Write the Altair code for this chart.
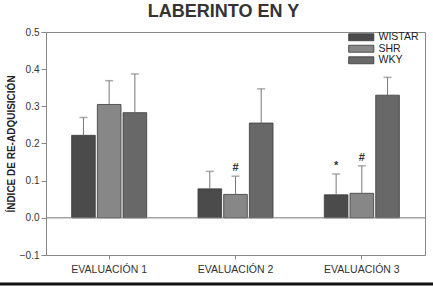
import altair as alt
import pandas as pd

evaluations = ["EVALUACIÓN 1", "EVALUACIÓN 2", "EVALUACIÓN 3"]
strains = ["WISTAR", "SHR", "WKY"]
colors = ["#4b4b4b", "#878787", "#686868"]

# values per evaluation for each strain
wistar_mean = [0.222, 0.078, 0.062]
wistar_err = [0.048, 0.047, 0.056]
shr_mean = [0.305, 0.063, 0.066]
shr_err = [0.064, 0.049, 0.074]
wky_mean = [0.283, 0.255, 0.330]
wky_err = [0.104, 0.092, 0.048]

y_ticks = [-0.1, 0.0, 0.1, 0.2, 0.3, 0.4, 0.5]

marks_eval = ["EVALUACIÓN 2", "EVALUACIÓN 3", "EVALUACIÓN 3"]
marks_strain = ["SHR", "WISTAR", "SHR"]
marks_text = ["#", "*", "#"]

rows = []
for s, m, e in zip(strains, [wistar_mean, shr_mean, wky_mean], [wistar_err, shr_err, wky_err]):
    for ev, mv, ev_err in zip(evaluations, m, e):
        rows.append({"eval": ev, "strain": s, "mean": mv, "top": mv + ev_err})
df = pd.DataFrame(rows)

mk = pd.DataFrame({"eval": marks_eval, "strain": marks_strain, "txt": marks_text})
mk = mk.merge(df[["eval", "strain", "top"]], on=["eval", "strain"])

W, H = 379, 223

xaxis = alt.Axis(title=None, labelAngle=0, labelFontSize=10.5, labelColor="#333",
                 domainColor="#888", tickColor="#888", tickSize=4, labelPadding=5,
                 grid=False)
xscale = alt.Scale(paddingInner=0.406, paddingOuter=0.203)
yaxis = alt.Axis(title="ÍNDICE DE RE-ADQUISICIÓN", titleFontSize=10, titleFontWeight="bold",
                 titleColor="#222", titlePadding=3,
                 values=y_ticks, format=".1f", labelOverlap=False,
                 labelFontSize=10, labelColor="#333", domainColor="#888",
                 tickColor="#888", tickSize=5, grid=False)
yscale = alt.Scale(domain=[-0.1, 0.5], nice=False)

xenc = alt.X("eval:N", sort=evaluations, scale=xscale, axis=xaxis)
xoff = alt.XOffset("strain:N", sort=strains, scale=alt.Scale(paddingInner=0.08))

bars = alt.Chart(df).mark_bar(stroke="#3a3a3a", strokeWidth=0.8).encode(
    x=xenc,
    xOffset=xoff,
    y=alt.Y("mean:Q", scale=yscale, axis=yaxis),
    fill=alt.Fill("strain:N", sort=strains,
                  scale=alt.Scale(domain=strains, range=colors),
                  legend=alt.Legend(title=None, orient="none", legendX=310, legendY=0,
                                    symbolType="M-3.6,-1L3.6,-1L3.6,1L-3.6,1Z",
                                    symbolSize=49, symbolStrokeColor="#3a3a3a",
                                    symbolStrokeWidth=0.8, labelOffset=12,
                                    labelFontSize=10.5, labelColor="#222",
                                    rowPadding=0.5)),
)

err = alt.Chart(df).mark_rule(color="#777", strokeWidth=1).encode(
    x=xenc, xOffset=xoff,
    y=alt.Y("mean:Q", scale=yscale, axis=yaxis), y2="top:Q")

cap = alt.Chart(df).mark_tick(color="#888", thickness=1.5, size=8, orient="horizontal").encode(
    x=xenc, xOffset=xoff, y=alt.Y("top:Q", scale=yscale, axis=yaxis))

zero = alt.Chart(pd.DataFrame({"z": [0.0]})).mark_rule(color="#777", strokeWidth=1).encode(
    y=alt.Y("z:Q", scale=yscale, axis=yaxis))

sig = alt.Chart(mk).mark_text(fontSize=11, fontWeight="bold", color="#333", baseline="bottom", dy=-3).encode(
    x=xenc, xOffset=xoff,
    y=alt.Y("top:Q", scale=yscale, axis=yaxis), text="txt:N")

border = alt.Chart(pd.DataFrame({"b": [0]})).mark_rule(color="#111", strokeWidth=3, clip=False).encode(
    x=alt.value(-46), x2=alt.value(W + 8), y=alt.value(H + 29))

chart = alt.layer(bars, err, cap, zero, sig, border).properties(
    width=W, height=H,
    title=alt.Title("LABERINTO EN Y", fontSize=18, fontWeight="bold", color="#333",
                    anchor="middle", dx=-12, offset=6),
    autosize=alt.AutoSizeParams(type="none"),
    padding={"left": 46, "top": 32, "right": 8, "bottom": 31},
).configure(font="Liberation Sans").configure_view(stroke="#888", strokeWidth=1
).configure_axis(labelOverlap=False)

chart.save("out.html", embed_options={"renderer": "svg", "actions": False})
